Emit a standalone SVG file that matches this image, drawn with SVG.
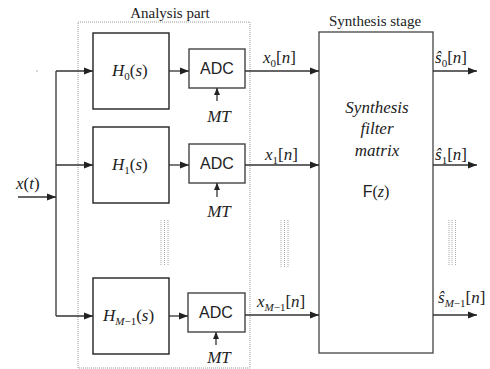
<svg xmlns="http://www.w3.org/2000/svg" width="490" height="369" viewBox="0 0 490 369">
<style>
.box{fill:#fff;stroke:#222;stroke-width:1.4}
.adc{fill:#fff;stroke:#444;stroke-width:1.4}
.syn{fill:#fff;stroke:#444;stroke-width:1.3}
.ln{fill:none;stroke:#333;stroke-width:1.3}
.dot{fill:none;stroke:#999;stroke-width:1;stroke-dasharray:1 1}
.el{fill:none;stroke:#aaa;stroke-width:1;stroke-dasharray:1 1}
.t{fill:#222}
.m{font-style:italic;fill:#222;font-size:17px}
.s{font-family:Liberation Sans,Arial,sans-serif;fill:#222}
.up{font-style:normal}
</style>
<defs>
<marker id="a" markerUnits="userSpaceOnUse" markerWidth="10" markerHeight="8" refX="9" refY="4" orient="auto">
<path d="M0,0.5 L9,4 L0,7.5 z" fill="#222"/>
</marker>
<marker id="b" markerUnits="userSpaceOnUse" markerWidth="8" markerHeight="8" refX="7" refY="3" orient="auto">
<path d="M0,0 L7,3 L0,6 z" fill="#222"/>
</marker>
</defs>

<g font-family="Liberation Serif, Tinos, Times New Roman, serif">
<g id="analysis-frame">
<rect class="dot" x="78" y="22" width="172" height="346"/>
<text class="t" x="170" y="18" font-size="15" text-anchor="middle">Analysis part</text>
</g>

<g id="stray-dot"><rect x="36.5" y="70.5" width="1" height="1" fill="#666"/></g>

<g id="input-label"><text class="m" x="16" y="189">x<tspan class="up">(</tspan>t<tspan class="up">)</tspan></text></g>

<g id="H0">
<rect class="box" x="93" y="33" width="76" height="76"/>
<text class="m" x="112" y="76">H<tspan class="up" font-size="11" dy="4">0</tspan><tspan class="up" dy="-4">(</tspan>s<tspan class="up">)</tspan></text>
</g>
<g id="H1">
<rect class="box" x="93" y="127" width="76" height="76"/>
<text class="m" x="112" y="170">H<tspan class="up" font-size="11" dy="4">1</tspan><tspan class="up" dy="-4">(</tspan>s<tspan class="up">)</tspan></text>
</g>
<g id="HM">
<rect class="box" x="93" y="278" width="76" height="76"/>
<text class="m" x="103" y="321">H<tspan font-size="11" dy="4">M</tspan><tspan class="up" font-size="11">−1</tspan><tspan class="up" dy="-4">(</tspan>s<tspan class="up">)</tspan></text>
</g>

<g id="ADC0">
<rect class="adc" x="189" y="49" width="56" height="39"/>
<text class="s" x="217" y="74" font-size="16" text-anchor="middle">ADC</text>
</g>
<g id="ADC1">
<rect class="adc" x="189" y="144" width="56" height="39"/>
<text class="s" x="217" y="169" font-size="16" text-anchor="middle">ADC</text>
</g>
<g id="ADCM">
<rect class="adc" x="188" y="293" width="57" height="39"/>
<text class="s" x="216" y="318" font-size="16" text-anchor="middle">ADC</text>
</g>

<g id="MT-labels">
<text class="m" x="219" y="122" font-size="15" text-anchor="middle">MT</text>
<text class="m" x="219" y="217" font-size="15" text-anchor="middle">MT</text>
<text class="m" x="219" y="363" font-size="15" text-anchor="middle">MT</text>
</g>

<g id="synthesis">
<rect class="syn" x="319" y="32" width="114" height="321"/>
<text class="t" x="375" y="26" font-size="15" text-anchor="middle">Synthesis stage</text>
<text class="m" x="377" y="113" font-size="16" text-anchor="middle">Synthesis</text>
<text class="m" x="377" y="134" font-size="16" text-anchor="middle">filter</text>
<text class="m" x="377" y="156" font-size="16" text-anchor="middle">matrix</text>
<text x="376" y="197" font-size="16" text-anchor="middle" fill="#222"><tspan class="s">F</tspan><tspan>(</tspan><tspan font-style="italic">z</tspan><tspan>)</tspan></text>
</g>

<g id="signal-labels">
<text class="m" x="263" y="63">x<tspan class="up" font-size="11" dy="4">0</tspan><tspan class="up" dy="-4">[</tspan>n<tspan class="up">]</tspan></text>
<text class="m" x="265" y="160">x<tspan class="up" font-size="11" dy="4">1</tspan><tspan class="up" dy="-4">[</tspan>n<tspan class="up">]</tspan></text>
<text class="m" x="257" y="307">x<tspan font-size="11" dy="4">M</tspan><tspan class="up" font-size="11">−1</tspan><tspan class="up" dy="-4">[</tspan>n<tspan class="up">]</tspan></text>
<text class="m" x="435" y="63">ŝ<tspan class="up" font-size="11" dy="4">0</tspan><tspan class="up" dy="-4">[</tspan>n<tspan class="up">]</tspan></text>
<text class="m" x="435" y="160">ŝ<tspan class="up" font-size="11" dy="4">1</tspan><tspan class="up" dy="-4">[</tspan>n<tspan class="up">]</tspan></text>
<text class="m" x="438" y="303">ŝ<tspan font-size="11" dy="4">M</tspan><tspan class="up" font-size="11">−1</tspan><tspan class="up" dy="-4">[</tspan>n<tspan class="up">]</tspan></text>
</g>
</g>

<g id="ellipses">
<path class="el" d="M161,220 V266 M164.5,220 V266 M168,220 V266"/>
<path class="el" d="M281,220 V267 M284.5,220 V267 M288,220 V267"/>
<path class="el" d="M449,220 V266 M452,220 V266 M455.5,220 V266"/>
</g>

<g id="connectors">
<path class="ln" d="M18,197 H56" marker-end="url(#a)"/>
<path class="ln" d="M56,71 V316"/>
<path class="ln" d="M56,71 H93" marker-end="url(#a)"/>
<path class="ln" d="M56,165 H93" marker-end="url(#a)"/>
<path class="ln" d="M56,316 H93" marker-end="url(#a)"/>
<path class="ln" d="M169,71 H189" marker-end="url(#a)"/>
<path class="ln" d="M169,165 H189" marker-end="url(#a)"/>
<path class="ln" d="M169,316 H188" marker-end="url(#a)"/>
<path class="ln" d="M245,71 H319" marker-end="url(#a)"/>
<path class="ln" d="M245,165 H319" marker-end="url(#a)"/>
<path class="ln" d="M245,315 H319" marker-end="url(#a)"/>
<path class="ln" d="M433,71 H477" marker-end="url(#a)"/>
<path class="ln" d="M433,165 H477" marker-end="url(#a)"/>
<path class="ln" d="M433,315 H477" marker-end="url(#a)"/>
<path class="ln" d="M217,101 V88" marker-end="url(#b)"/>
<path class="ln" d="M217,197 V183" marker-end="url(#b)"/>
<path class="ln" d="M216,345 V332" marker-end="url(#b)"/>
</g>
</svg>
